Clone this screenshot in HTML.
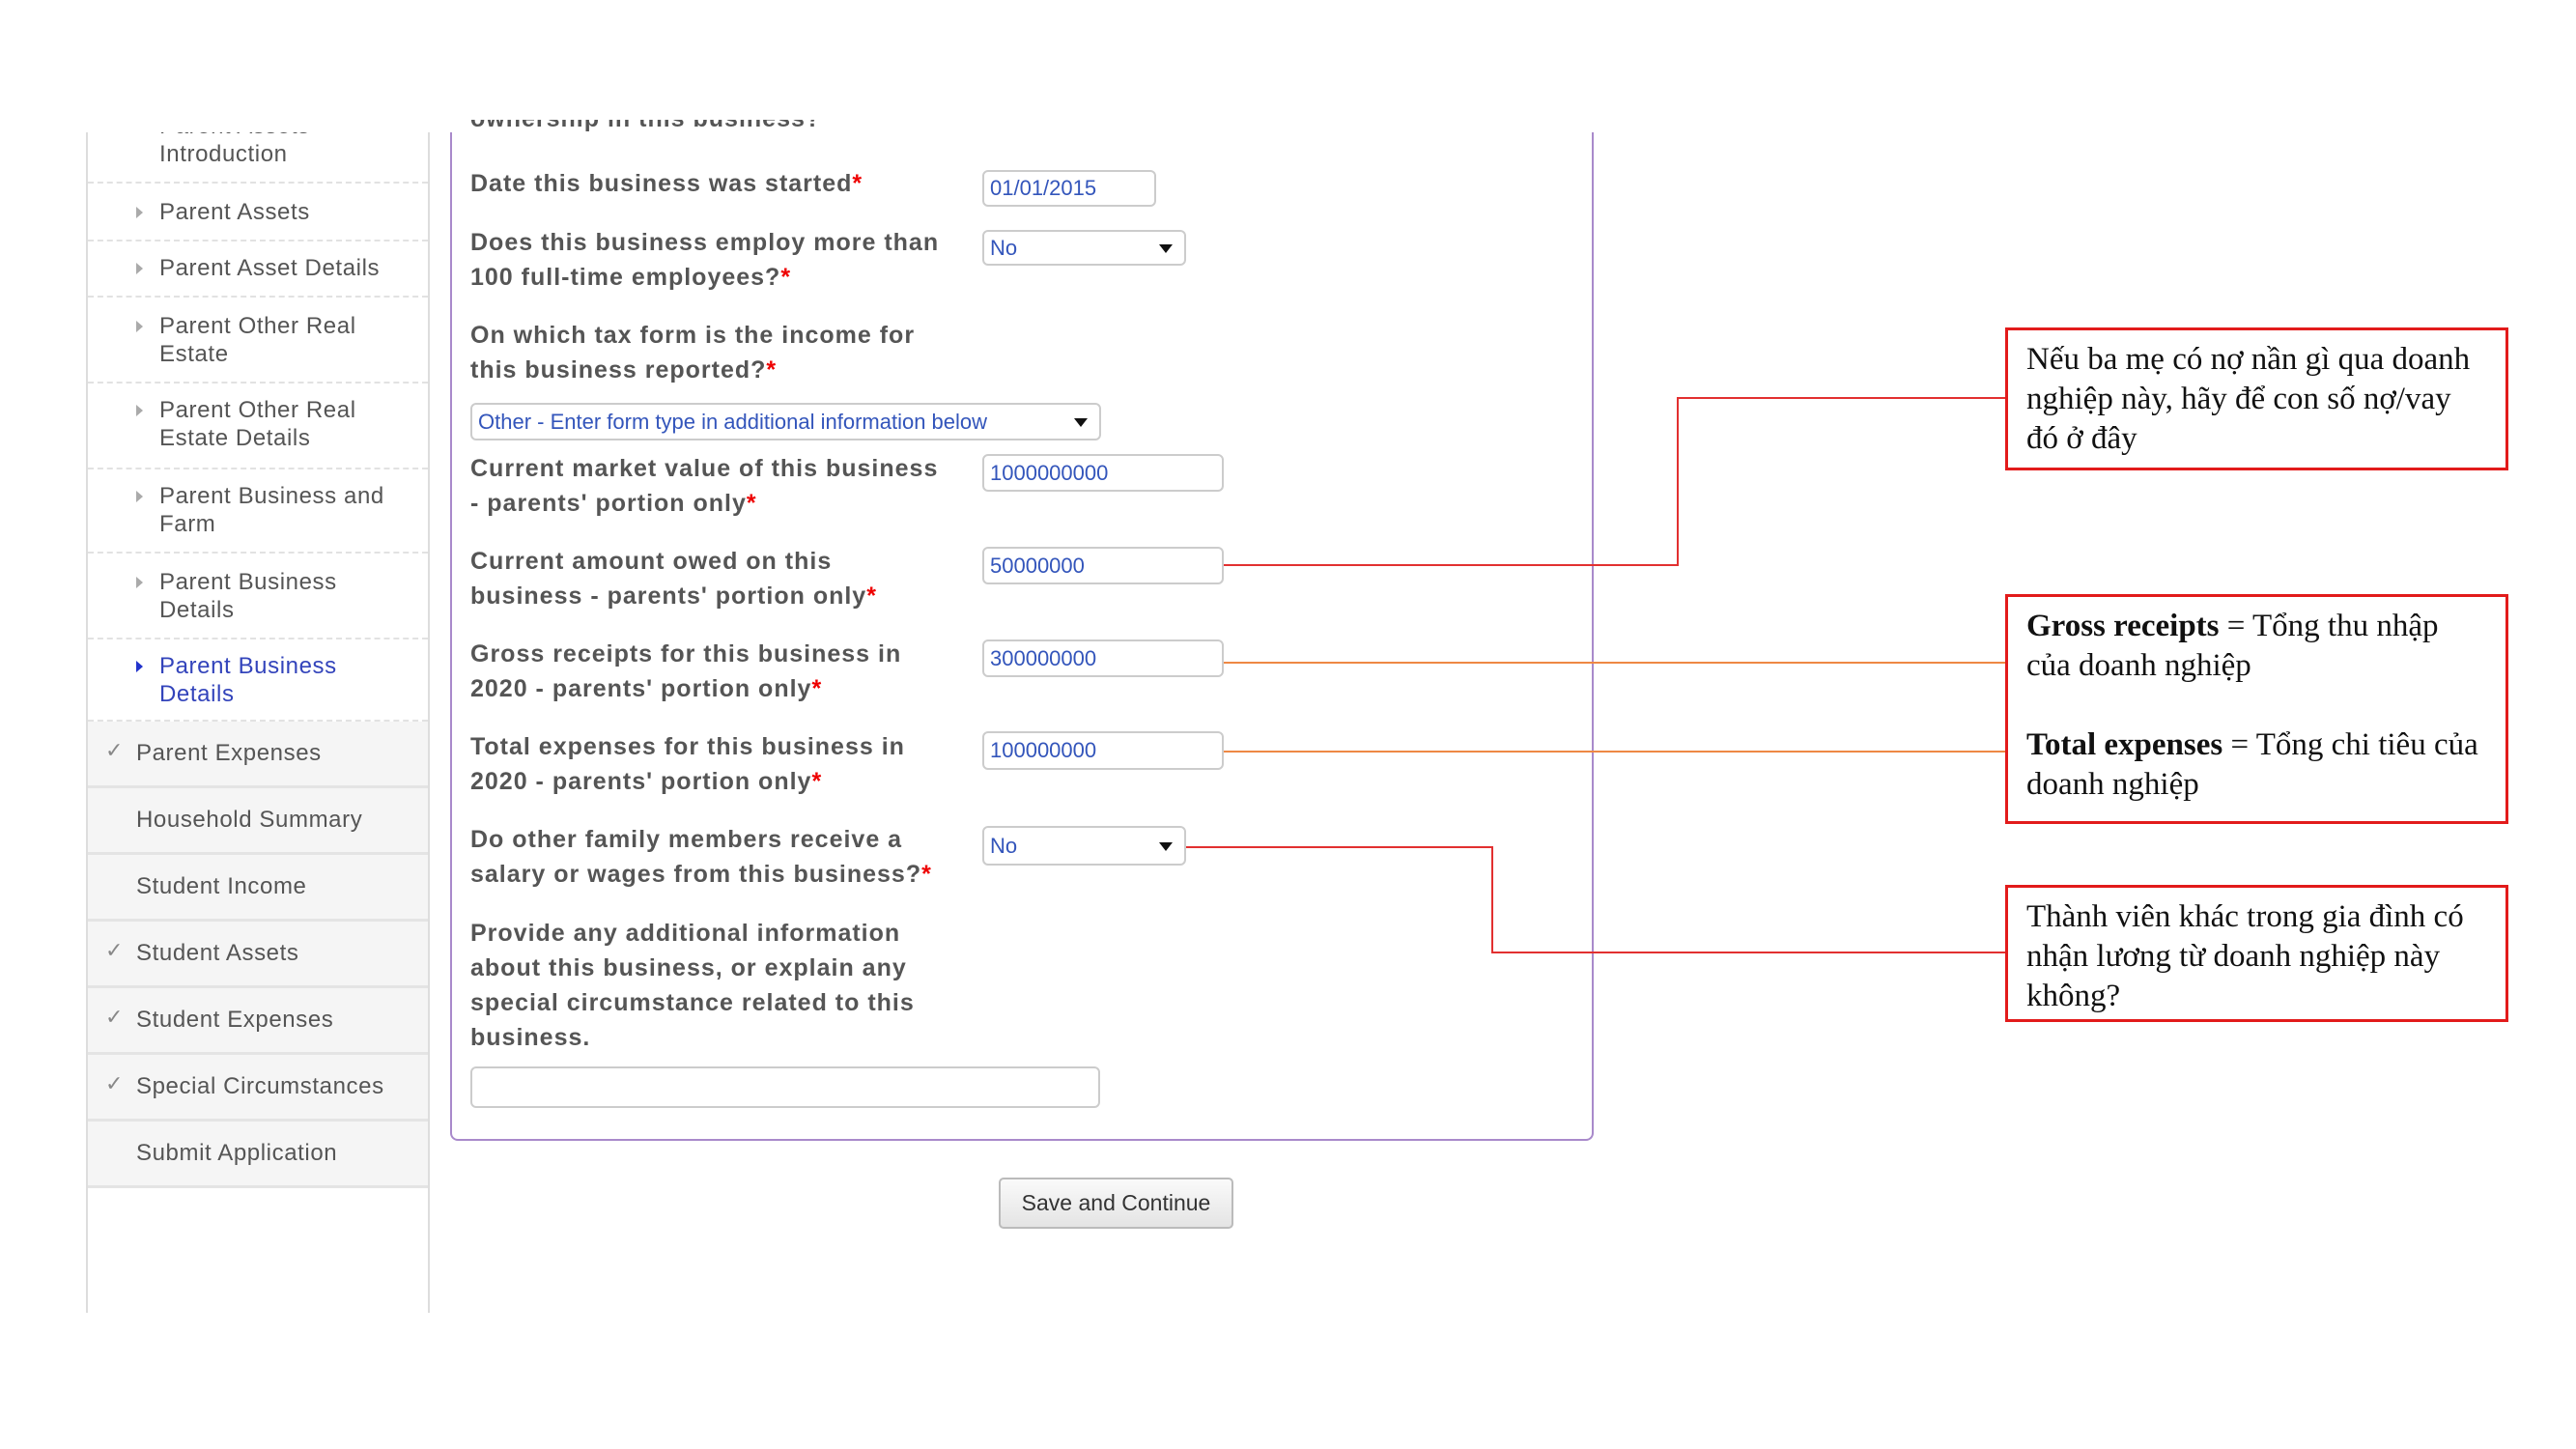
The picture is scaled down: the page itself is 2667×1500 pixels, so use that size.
<!DOCTYPE html>
<html><head><meta charset="utf-8">
<style>
*{margin:0;padding:0;box-sizing:border-box}
body{width:2667px;height:1500px;background:#fff;position:relative;overflow:hidden;font-family:"Liberation Sans",sans-serif}
.a{position:absolute}
.side{left:89px;top:137px;width:356px;height:1222px;border-left:2px solid #ddd;border-right:2px solid #ddd;overflow:hidden}
.t{position:absolute;left:74px;color:#555;font-size:24px;line-height:29px;letter-spacing:0.6px;white-space:nowrap}
.sep{position:absolute;left:0;width:352px;border-top:2px dashed #e2e2e2}
.tri{position:absolute;left:50px;width:0;height:0;border-left:7px solid #aaa;border-top:6px solid transparent;border-bottom:6px solid transparent}
.gi{position:absolute;left:0;width:352px;height:69px;background:#f5f5f5;border-bottom:3px solid #e4e4e4;color:#555;font-size:24px;line-height:66px;letter-spacing:0.6px}
.gi span{position:absolute;left:50px}
.chk{position:absolute;left:18px;top:-3px;color:#888;font-size:22px}
.lab{position:absolute;left:487px;font-weight:bold;color:#555;font-size:25px;letter-spacing:1px;line-height:36px;width:560px}
.lab i{color:#e00;font-style:normal}
.inp{position:absolute;border:2px solid #ccc;border-radius:6px;color:#3355bb;font-size:22px;padding-left:6px;background:#fff;display:flex;align-items:center}
.dd{position:absolute;right:12px;top:50%;margin-top:-4px;border-top:9px solid #111;border-left:7px solid transparent;border-right:7px solid transparent}
.box{position:absolute;left:2076px;width:521px;border:3px solid #e21b1b;font-family:"Liberation Serif",serif;font-size:33px;line-height:41px;color:#111;padding:10px 19px}
</style></head><body>

<div class="a side">
 <div class="t" style="top:-21px">Parent Assets<br>Introduction</div>
 <div class="sep" style="top:51px"></div>
 <div class="tri" style="top:77px"></div><div class="t" style="top:68px">Parent Assets</div>
 <div class="sep" style="top:111px"></div>
 <div class="tri" style="top:135px"></div><div class="t" style="top:126px">Parent Asset Details</div>
 <div class="sep" style="top:169px"></div>
 <div class="tri" style="top:195px"></div><div class="t" style="top:186px">Parent Other Real<br>Estate</div>
 <div class="sep" style="top:258px"></div>
 <div class="tri" style="top:282px"></div><div class="t" style="top:273px">Parent Other Real<br>Estate Details</div>
 <div class="sep" style="top:347px"></div>
 <div class="tri" style="top:371px"></div><div class="t" style="top:362px">Parent Business and<br>Farm</div>
 <div class="sep" style="top:434px"></div>
 <div class="tri" style="top:460px"></div><div class="t" style="top:451px">Parent Business<br>Details</div>
 <div class="sep" style="top:523px"></div>
 <div class="tri" style="top:547px;border-left-color:#2233cc"></div><div class="t" style="top:538px;color:#3344bb">Parent Business<br>Details</div>
 <div class="sep" style="top:608px"></div>
 <div class="gi" style="top:610px"><div class="chk">✓</div><span>Parent Expenses</span></div>
 <div class="gi" style="top:679px"><span>Household Summary</span></div>
 <div class="gi" style="top:748px"><span>Student Income</span></div>
 <div class="gi" style="top:817px"><div class="chk">✓</div><span>Student Assets</span></div>
 <div class="gi" style="top:886px"><div class="chk">✓</div><span>Student Expenses</span></div>
 <div class="gi" style="top:955px"><div class="chk">✓</div><span>Special Circumstances</span></div>
 <div class="gi" style="top:1024px"><span>Submit Application</span></div>
</div>

<div class="a" style="left:466px;top:137px;width:1184px;height:1044px;border:2px solid #a98acb;border-top:none;border-radius:0 0 8px 8px"></div>
<div class="a" style="left:487px;top:124px;height:13px;overflow:hidden;width:600px"><div style="font-weight:bold;color:#555;font-size:25px;letter-spacing:1px;line-height:36px;margin-top:-19px">ownership in this business?</div></div>

<div class="lab" style="top:172px">Date this business was started<i>*</i></div>
<div class="lab" style="top:233px">Does this business employ more than<br>100 full-time employees?<i>*</i></div>
<div class="lab" style="top:329px">On which tax form is the income for<br>this business reported?<i>*</i></div>
<div class="lab" style="top:467px">Current market value of this business<br>- parents' portion only<i>*</i></div>
<div class="lab" style="top:563px">Current amount owed on this<br>business - parents' portion only<i>*</i></div>
<div class="lab" style="top:659px">Gross receipts for this business in<br>2020 - parents' portion only<i>*</i></div>
<div class="lab" style="top:755px">Total expenses for this business in<br>2020 - parents' portion only<i>*</i></div>
<div class="lab" style="top:851px">Do other family members receive a<br>salary or wages from this business?<i>*</i></div>
<div class="lab" style="top:948px">Provide any additional information<br>about this business, or explain any<br>special circumstance related to this<br>business.</div>

<div class="inp" style="left:1017px;top:176px;width:180px;height:38px">01/01/2015</div>
<div class="inp" style="left:1017px;top:238px;width:211px;height:37px">No<div class="dd"></div></div>
<div class="inp" style="left:487px;top:417px;width:653px;height:39px">Other - Enter form type in additional information below<div class="dd"></div></div>
<div class="inp" style="left:1017px;top:470px;width:250px;height:39px">1000000000</div>
<div class="inp" style="left:1017px;top:566px;width:250px;height:39px">50000000</div>
<div class="inp" style="left:1017px;top:662px;width:250px;height:39px">300000000</div>
<div class="inp" style="left:1017px;top:757px;width:250px;height:40px">100000000</div>
<div class="inp" style="left:1017px;top:855px;width:211px;height:41px">No<div class="dd"></div></div>
<div class="inp" style="left:487px;top:1104px;width:652px;height:43px"></div>
<div class="a" style="left:1034px;top:1219px;width:243px;height:53px;border:2px solid #bbb;border-radius:5px;background:linear-gradient(#fafafa,#e4e4e4);font-size:23px;color:#333;display:flex;align-items:center;justify-content:center">Save and Continue</div>

<svg class="a" style="left:0;top:0" width="2667" height="1500">
 <polyline points="1267,585 1737,585 1737,412 2076,412" fill="none" stroke="#e23030" stroke-width="2"/>
 <line x1="1267" y1="686" x2="2076" y2="686" stroke="#ee8844" stroke-width="2"/>
 <line x1="1267" y1="778" x2="2076" y2="778" stroke="#ee8844" stroke-width="2"/>
 <polyline points="1228,877 1545,877 1545,986 2076,986" fill="none" stroke="#e23030" stroke-width="2"/>
</svg>

<div class="box" style="top:339px;height:148px">Nếu ba mẹ có nợ nần gì qua doanh nghiệp này, hãy để con số nợ/vay đó ở đây</div>
<div class="box" style="top:615px;height:238px"><b>Gross receipts</b> = Tổng thu nhập của doanh nghiệp<br><br><b>Total expenses</b> = Tổng chi tiêu của doanh nghiệp</div>
<div class="box" style="top:916px;height:142px">Thành viên khác trong gia đình có nhận lương từ doanh nghiệp này không?</div>
</body></html>
